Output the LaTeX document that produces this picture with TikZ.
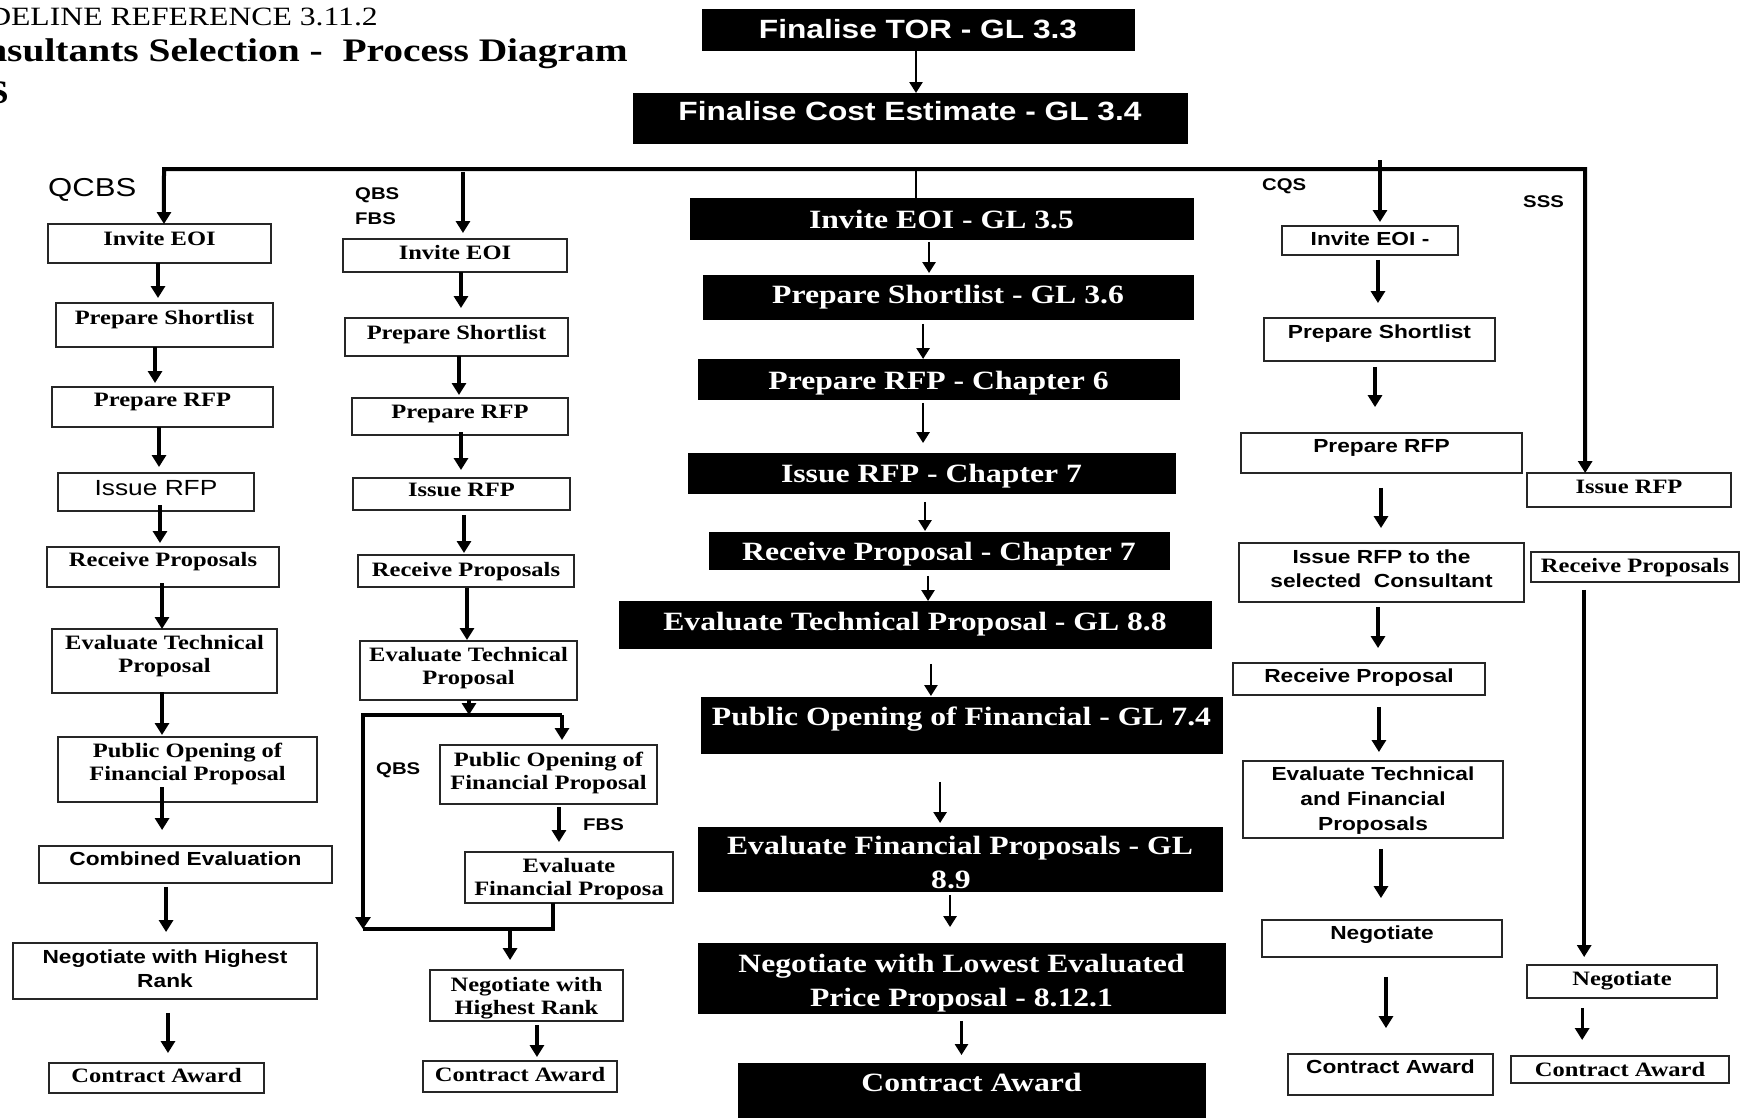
\documentclass[tikz,border=0pt]{standalone}
\usepackage{fontspec}
\usetikzlibrary{arrows.meta}
\newfontfamily\serifR[FakeStretch=1.2]{Liberation Serif}
\newfontfamily\sansR[FakeStretch=1.2]{Liberation Sans}
\newcommand\SB[2]{\serifR\bfseries\fontsize{#1}{#2}\selectfont}
\newcommand\SR[2]{\serifR\fontsize{#1}{#2}\selectfont}
\newcommand\SSB[2]{\sansR\bfseries\fontsize{#1}{#2}\selectfont}
\newcommand\SSR[2]{\sansR\fontsize{#1}{#2}\selectfont}
% box node #1 (style #2) spanning (#4,#5)-(#6,#7), its text (style #3) hung from y=#8
\newcommand\procbox[9]{%
  \node[#2, minimum width={(#6-#4)*1bp}, minimum height={(#7-#5)*1bp}] (#1) at ({(#4+#6)/2},{(#5+#7)/2}) {};
  \node[#3, anchor=north] (#1t) at ({(#4+#6)/2},#8) {#9};}
% vertical connector from #2 down to #3, shifted by #4, shortened by #5 / #6
\newcommand\flow[6]{\draw[#1, shorten <=#5, shorten >=#6] ([xshift=#4]#2.south) -- ([xshift=#4]#2.south |- #3.north);}
\begin{document}
\begin{tikzpicture}[x=1bp,y=-1bp,
  obox/.style={draw=black!85, line width=1.4bp, fill=white, inner sep=0pt, outer sep=0pt},
  kbox/.style={draw=black, fill=black, inner sep=0pt, outer sep=0pt},
  tx/.style={inner sep=0pt, align=center},
  serb/.style={tx, font=\SB{20.5}{23}},
  sanb/.style={tx, font=\SSB{19}{23.5}},
  wsan/.style={tx, text=white, font=\SSB{26.5}{30}},
  wser/.style={tx, text=white, font=\SB{26.5}{34}},
  lab/.style={tx, font=\SSB{17}{20}},
  arr/.style={line width=3.2bp, -{Triangle[width=14bp,length=12bp]}},
  carr/.style={line width=2.6bp, -{Triangle[width=13bp,length=11bp]}},
  heavy/.style={line width=4bp}]
\useasboundingbox (0,0) rectangle (1742,1117);
\fill[white] (0,0) rectangle (1742,1117);

% heading
\node[tx, anchor=base east, font=\SR{26.5}{30}] (hdA) at (378,25) {DELINE REFERENCE 3.11.2};
\node[tx, anchor=base east, font=\SB{33}{36}] (hdB) at (628,61) {nsultants Selection - \ Process Diagram};
\node[tx, anchor=base east, font=\SB{33}{36}] (hdC) at (9,103) {S};

% central sequence
\procbox{c1}{kbox}{wsan}{702}{9}{1134}{50}{19}{Finalise TOR - GL 3.3}
\procbox{c2}{kbox}{wsan}{633}{93}{1187}{143}{101}{Finalise Cost Estimate - GL 3.4}
\procbox{c3}{kbox}{wser}{690}{198}{1193}{239}{210}{Invite EOI - GL 3.5}
\procbox{c4}{kbox}{wser}{703}{275}{1193}{319}{285}{Prepare Shortlist - GL 3.6}
\procbox{c5}{kbox}{wser}{698}{359}{1179}{399}{371}{Prepare RFP - Chapter 6}
\procbox{c6}{kbox}{wser}{688}{453}{1175}{493}{464}{Issue RFP - Chapter 7}
\procbox{c7}{kbox}{wser}{709}{532}{1169}{569}{542}{Receive Proposal - Chapter 7}
\procbox{c8}{kbox}{wser}{619}{601}{1211}{648}{612}{Evaluate Technical Proposal - GL 8.8}
\procbox{c9}{kbox}{wser}{701}{697}{1222}{753}{707}{Public Opening of Financial - GL 7.4}
\procbox{c10}{kbox}{wser}{698}{827}{1222}{891}{836}{Evaluate Financial Proposals - GL\\8.9\hspace*{18bp}}
\procbox{c11}{kbox}{wser}{698}{943}{1225}{1013}{954}{Negotiate with Lowest Evaluated\\Price Proposal - 8.12.1}
\procbox{c12}{kbox}{wser}{738}{1063}{1205}{1130}{1073}{Contract Award}

\flow{carr}{c1}{c2}{-2}{0}{0}
\flow{carr}{c3}{c4}{-12.5}{3}{2}
\flow{carr}{c4}{c5}{-25}{5}{0}
\flow{carr}{c5}{c6}{-15.5}{4}{10}
\flow{carr}{c6}{c7}{-6.5}{9}{1}
\flow{carr}{c7}{c8}{-11}{7}{0}
\flow{carr}{c8}{c9}{16}{16}{1}
\flow{carr}{c9}{c10}{-21.5}{29}{4}
\flow{carr}{c10}{c11}{-10}{4}{16}
\flow{carr}{c11}{c12}{0}{8}{8}

% QCBS
\node[tx, anchor=north west, font=\SSR{26}{30}] (lqcbs) at (48,178) {QCBS};
\procbox{q1}{obox}{serb}{48}{224}{271}{263}{231}{Invite EOI}
\procbox{q2}{obox}{serb}{56}{303}{273}{347}{310}{Prepare Shortlist}
\procbox{q3}{obox}{serb}{52}{387}{273}{427}{393}{Prepare RFP}
\procbox{q4}{obox}{tx,font=\SSR{22}{26}}{58}{473}{254}{511}{480}{Issue RFP}
\procbox{q5}{obox}{serb}{47}{547}{279}{587}{552}{Receive Proposals}
\procbox{q6}{obox}{serb}{52}{629}{277}{693}{635}{Evaluate Technical\\Proposal}
\procbox{q7}{obox}{serb}{58}{737}{317}{802}{743}{Public Opening of\\Financial Proposal}
\procbox{q8}{obox}{sanb}{39}{846}{332}{883}{852}{Combined Evaluation}
\procbox{q9}{obox}{sanb}{13}{943}{317}{999}{950}{Negotiate with Highest\\Rank}
\procbox{q10}{obox}{serb}{49}{1063}{264}{1093}{1068}{Contract Award}

\flow{arr}{q1}{q2}{-1.5}{0}{5}
\flow{arr}{q2}{q3}{-9.5}{0}{4}
\flow{arr}{q3}{q4}{-3.5}{0}{6}
\flow{arr}{q4}{q5}{4}{-6}{4}
\flow{arr}{q5}{q6}{-1}{-4}{0}
\flow{arr}{q6}{q7}{-2.5}{-1}{2}
\flow{arr}{q7}{q8}{-25.5}{-15}{16}
\flow{arr}{q8}{q9}{-19.5}{4}{11}
\flow{arr}{q9}{q10}{3}{14}{10}

% QBS / FBS
\node[lab, anchor=north west] (lqbs) at (355,187) {QBS};
\node[lab, anchor=north west] (lfbs) at (355,212) {FBS};
\procbox{b1}{obox}{serb}{343}{239}{567}{272}{245}{Invite EOI}
\procbox{b2}{obox}{serb}{345}{318}{568}{356}{325}{Prepare Shortlist}
\procbox{b3}{obox}{serb}{352}{398}{568}{435}{405}{Prepare RFP}
\procbox{b4}{obox}{serb}{353}{478}{570}{510}{483}{Issue RFP}
\procbox{b5}{obox}{serb}{358}{555}{574}{587}{562}{Receive Proposals}
\procbox{b6}{obox}{serb}{360}{641}{577}{700}{647}{Evaluate Technical\\Proposal}
\procbox{b7}{obox}{serb}{440}{745}{657}{804}{752}{Public Opening of\\Financial Proposal}
\procbox{b8}{obox}{serb}{465}{852}{673}{903}{858}{Evaluate\\Financial Proposa}
\procbox{b9}{obox}{serb}{430}{970}{623}{1021}{977}{Negotiate with\\Highest Rank}
\procbox{b10}{obox}{serb}{423}{1061}{617}{1092}{1067}{Contract Award}
\node[lab, anchor=north west] (lqbs2) at (376,762) {QBS};
\node[lab, anchor=north west] (lfbs2) at (583,818) {FBS};

\flow{arr}{b1}{b2}{6}{0}{10}
\flow{arr}{b2}{b3}{2.5}{0}{3}
\flow{arr}{b3}{b4}{1}{-3}{8}
\flow{arr}{b4}{b5}{2.5}{5}{2}
\flow{arr}{b5}{b6}{1}{1}{1}

\coordinate (splitL) at (363,715);
\coordinate (splitR) at (562,715);
\coordinate (mergeL) at (363,929);
\draw[arr, line width=3.6bp] ([xshift=0.5]b6.south) -- ([xshift=0.5]b6.south |- splitL);
\draw[heavy, -{Triangle[width=15bp,length=12bp]}] (splitR) -- (splitL) -- (mergeL);
\draw[arr, shorten >=5] (splitR) -- (splitR |- b7.north);
\flow{arr}{b7}{b8}{10.5}{3}{10}
\draw[heavy] ([xshift=-16]b8.south) -- ([xshift=-16]b8.south |- mergeL) -- (mergeL);
\draw[arr, shorten >=10] ([xshift=-16.5]b9.north |- mergeL) -- ([xshift=-16.5]b9.north);
\flow{arr}{b9}{b10}{10.5}{4}{4}

% CQS
\node[lab, anchor=north west] (lcqs) at (1262,178) {CQS};
\procbox{r1}{obox}{sanb}{1282}{226}{1458}{255}{232}{Invite EOI -}
\procbox{r2}{obox}{sanb}{1264}{318}{1495}{361}{325}{Prepare Shortlist}
\procbox{r3}{obox}{sanb}{1241}{433}{1522}{473}{439}{Prepare RFP}
\procbox{r4}{obox}{sanb}{1239}{543}{1524}{602}{550}{Issue RFP to the\\selected \ Consultant}
\procbox{r5}{obox}{sanb}{1233}{663}{1485}{695}{669}{Receive Proposal}
\procbox{r6}{obox}{tx,font=\SSB{19}{25}}{1243}{761}{1503}{838}{767}{Evaluate Technical\\and Financial\\Proposals}
\procbox{r7}{obox}{sanb}{1262}{920}{1502}{957}{926}{Negotiate}
\procbox{r8}{obox}{sanb}{1288}{1054}{1493}{1095}{1060}{Contract Award}

\flow{arr}{r1}{r2}{8}{5}{15}
\flow{arr}{r2}{r3}{-4.5}{6}{26}
\flow{arr}{r3}{r4}{-0.5}{15}{15}
\flow{arr}{r4}{r5}{-3.5}{5}{15}
\flow{arr}{r5}{r6}{20}{12}{9}
\flow{arr}{r6}{r7}{8}{11}{22}
\flow{arr}{r7}{r8}{4}{20}{26}

% SSS
\node[lab, anchor=north west] (lsss) at (1523,195) {SSS};
\procbox{s1}{obox}{serb}{1527}{473}{1731}{507}{480}{Issue RFP}
\procbox{s2}{obox}{serb}{1531}{552}{1739}{582}{558}{Receive Proposals}
\procbox{s3}{obox}{serb}{1527}{965}{1717}{998}{971}{Negotiate}
\procbox{s4}{obox}{serb}{1511}{1056}{1729}{1083}{1062}{Contract Award}
\flow{heavy, -{Triangle[width=14bp,length=12bp]}}{s2}{s3}{-51}{8}{8}
\flow{arr}{s3}{s4}{-40}{10}{16}

% distribution bus to the five methods
\coordinate (busL) at (164,169);
\coordinate (busR) at (1585,169);
\draw[heavy, {Triangle[width=14bp,length=12bp]}-{Triangle[width=14bp,length=12bp]}]
  ([xshift=4.5]q1.north) -- (busL) -- (busR) -- ([xshift=-44]s1.north);
\draw[arr, shorten <=3, shorten >=6] ([xshift=8]b1.north |- busL) -- ([xshift=8]b1.north);
\draw[line width=2.6bp] ([xshift=-25.5]c3.north |- busL) -- ([xshift=-25.5]c3.north);
\draw[arr, shorten <=-9, shorten >=4] ([xshift=10]r1.north |- busL) -- ([xshift=10]r1.north);
\end{tikzpicture}
\end{document}
